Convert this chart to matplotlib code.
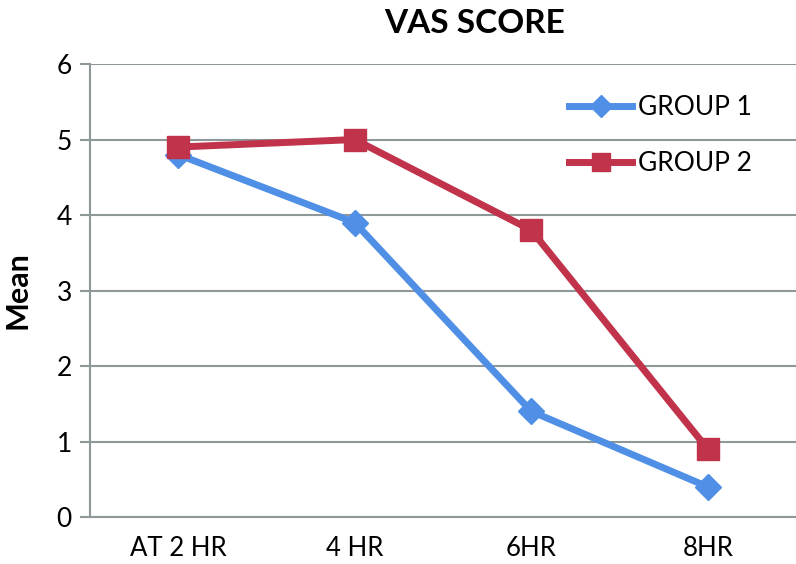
import numpy as np
import matplotlib.pyplot as plt

plt.rcParams['font.family'] = ['Lato', 'DejaVu Sans']

# VAS score means per time point
times = ["AT 2 HR", "4 HR", "6HR", "8HR"]
group1 = [4.8, 3.9, 1.4, 0.4]
group2 = [4.9, 5.0, 3.8, 0.9]

blue = '#4F8FE6'
red = '#C0334A'
grid = '#8E9898'

fig = plt.figure(figsize=(7.96, 5.64), dpi=100)
ax = fig.add_axes([0.113, 0.0833, 0.887, 0.8032])

x = np.arange(len(times))
ax.plot(x, group1, color=blue, lw=5, marker='D', markersize=13, label='GROUP 1')
ax.plot(x, group2, color=red, lw=5, marker='s', markersize=16, label='GROUP 2')

ax.set_xlim(-0.5, 3.5)
ax.set_ylim(0, 6)
ax.set_yticks(range(0, 7))
ax.set_xticks(x)
ax.set_xticklabels(times)
ax.yaxis.grid(True, color=grid, lw=1.5)
ax.set_axisbelow(True)
for s in ['top', 'right']:
    ax.spines[s].set_visible(False)
ax.spines['left'].set_color(grid)
ax.spines['bottom'].set_color(grid)
ax.spines['left'].set_linewidth(1.5)
ax.spines['bottom'].set_linewidth(1.5)
ax.tick_params(axis='y', length=7, width=1.5, color=grid, labelsize=19, pad=6)
ax.tick_params(axis='x', length=0, labelsize=18.5, pad=14)

ax.set_ylabel('Mean', fontsize=22, fontweight='bold', labelpad=18)
fig.text(0.596, 0.958, 'VAS SCORE', fontsize=24, fontweight='bold', ha='center', va='center')

leg = ax.legend(loc='upper left', bbox_to_anchor=(0.645, 0.983), frameon=False, fontsize=19,
                handlelength=2.4, labelspacing=1.15, handletextpad=0.2, markerscale=0.85)

fig.savefig('out.png', dpi=100)
